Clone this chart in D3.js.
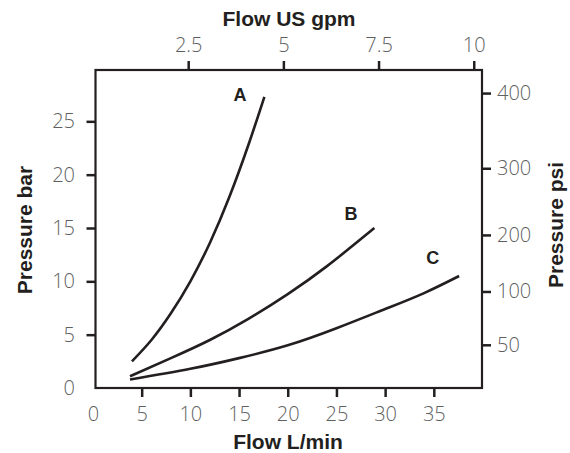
<!DOCTYPE html>
<html>
<head>
<meta charset="utf-8">
<script src="https://cdn.jsdelivr.net/npm/d3@7"></script>
<style>
  body { margin: 0; background: #fff; }
  .tick text { font-family: "Open Sans", "Liberation Sans", sans-serif; font-weight: 300; font-size: 20px; fill: #5e5f61; }
  .title { font-family: "Liberation Sans", Arial, sans-serif; font-weight: bold; font-size: 21px; fill: #231f20; }
  .curve-label { font-family: "Liberation Sans", Arial, sans-serif; font-weight: bold; font-size: 18px; fill: #231f20; }
</style>
</head>
<body>
<svg id="chart"></svg>
<script>
// curves: [flow L/min, pressure bar]
const curveA = [[4, 2.5], [6, 4.5], [8, 7.0], [10, 10.0], [12, 13.6], [14, 17.9], [16, 22.9], [17.6, 27.3]];
const curveB = [[3.8, 1.1], [8, 2.8], [12, 4.5], [16, 6.5], [20, 8.8], [24, 11.4], [28.9, 15.0]];
const curveC = [[3.8, 0.8], [10, 1.8], [15, 2.8], [20, 4.0], [25, 5.6], [30, 7.4], [34, 8.9], [37.6, 10.5]];
const curveNames = ['A', 'B', 'C'];
const labelPos = [[15.1, 27.5], [26.5, 16.3], [34.9, 12.2]];

const flowTicks = [0, 5, 10, 15, 20, 25, 30, 35];
const gpmTicks = [2.5, 5, 7.5, 10];
const barTicks = [0, 5, 10, 15, 20, 25];
const psiTicks = [50, 100, 200, 300, 400];
// where each psi tick sits on the bar scale in the picture
const psiTickBar = [4.05, 9.05, 14.35, 20.6, 27.65];

const flowMax = 40, gpmMax = 10.23, barMax = 30;

const width = 570, height = 453;
const frame = {left: 95.5, right: 482, top: 70, bottom: 388};

const svg = d3.select('#chart')
    .attr('width', width)
    .attr('height', height);

const xScale = d3.scaleLinear().domain([0, flowMax]).range([93, 482.5]);
const gpmScale = d3.scaleLinear().domain([0, gpmMax]).range([93, 482.5]);
const yScale = d3.scaleLinear().domain([0, barMax]).range([388, 68]);
const psiScale = d3.scaleLinear().domain([0, barMax]).range([388, 68]);

// axes (no domain path, the frame is drawn separately)
const xAxisG = svg.append('g')
    .attr('transform', `translate(0,${frame.bottom})`)
    .call(d3.axisBottom(xScale).tickValues(flowTicks).tickSize(9).tickPadding(9.5))
    .call(g => g.select('.domain').remove());

const topAxisG = svg.append('g')
    .attr('transform', `translate(0,${frame.top})`)
    .call(d3.axisTop(gpmScale).tickValues(gpmTicks).tickFormat(d3.format('')).tickSize(9).tickPadding(9))
    .call(g => g.select('.domain').remove());

const yAxisG = svg.append('g')
    .attr('transform', `translate(${frame.left},0)`)
    .call(d3.axisLeft(yScale).tickValues(barTicks).tickSize(9).tickPadding(11.5))
    .call(g => g.select('.domain').remove());

const psiAxisG = svg.append('g')
    .attr('transform', `translate(${frame.right},0)`)
    .call(d3.axisRight(psiScale).tickValues(psiTickBar)
        .tickFormat((d, i) => psiTicks[i]).tickSize(9).tickPadding(6))
    .call(g => g.select('.domain').remove());

// the zero labels have no tick mark
xAxisG.selectAll('.tick').filter(d => d === 0).select('line').remove();
yAxisG.selectAll('.tick').filter(d => d === 0).select('line').remove();

svg.selectAll('.tick line')
    .attr('stroke', '#231f20')
    .attr('stroke-width', 2.5);

// frame
svg.append('rect')
    .attr('x', frame.left)
    .attr('y', frame.top)
    .attr('width', frame.right - frame.left)
    .attr('height', frame.bottom - frame.top)
    .attr('fill', 'none')
    .attr('stroke', '#231f20')
    .attr('stroke-width', 2.2);

// curves
const line = d3.line()
    .x(d => xScale(d[0]))
    .y(d => yScale(d[1]))
    .curve(d3.curveNatural);

svg.selectAll('.curve')
    .data([curveA, curveB, curveC])
    .join('path')
    .attr('class', 'curve')
    .attr('d', line)
    .attr('fill', 'none')
    .attr('stroke', '#231f20')
    .attr('stroke-width', 2.6);

svg.selectAll('.curve-label')
    .data(curveNames)
    .join('text')
    .attr('class', 'curve-label')
    .attr('x', (d, i) => xScale(labelPos[i][0]))
    .attr('y', (d, i) => yScale(labelPos[i][1]))
    .attr('dy', '0.35em')
    .attr('text-anchor', 'middle')
    .text(d => d);

// axis titles
svg.append('text')
    .attr('class', 'title')
    .attr('x', 289)
    .attr('y', 26)
    .attr('text-anchor', 'middle')
    .text('Flow US gpm');

svg.append('text')
    .attr('class', 'title')
    .attr('x', 288)
    .attr('y', 449)
    .attr('text-anchor', 'middle')
    .text('Flow L/min');

svg.append('text')
    .attr('class', 'title')
    .attr('transform', 'translate(32,230) rotate(-90)')
    .attr('text-anchor', 'middle')
    .text('Pressure bar');

svg.append('text')
    .attr('class', 'title')
    .attr('transform', 'translate(563,225) rotate(-90)')
    .attr('text-anchor', 'middle')
    .text('Pressure psi');
</script>
</body>
</html>
